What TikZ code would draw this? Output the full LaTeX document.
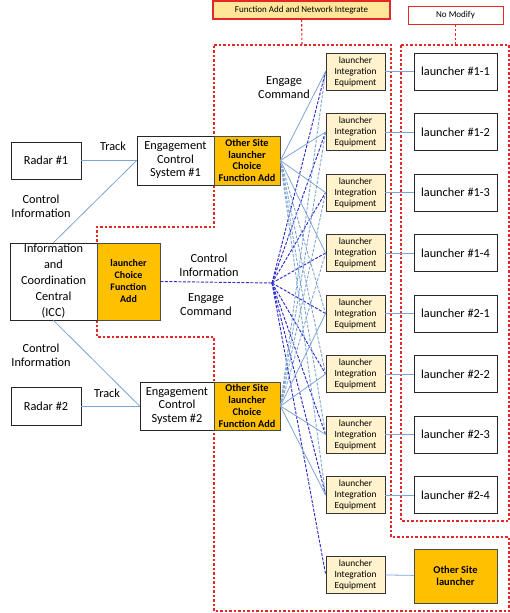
\documentclass[tikz,border=0pt]{standalone}
\usepackage{fontspec}
\setmainfont{Carlito}

\definecolor{linkblue}{RGB}{124,164,212}
\definecolor{cmdblue}{RGB}{45,45,200}
\definecolor{siteorange}{RGB}{255,192,0}
\definecolor{liefill}{RGB}{255,242,204}
\definecolor{tagfill}{RGB}{255,230,153}
\definecolor{zonered}{RGB}{228,40,40}

\begin{document}
\begin{tikzpicture}[x=1pt,y=-1pt]
\tikzstyle{every node}=[inner sep=0pt, align=center, font=\fontsize{12.3}{14}\selectfont]
\tikzstyle{unit}=[draw=black!85, line width=0.8pt, fill=white]
\tikzstyle{addon}=[draw=black!70, line width=0.8pt, fill=siteorange, font=\fontsize{10.3}{11.8}\selectfont\bfseries]
\tikzstyle{lie}=[draw=black!80, line width=0.8pt, fill=liefill, minimum width=59pt, minimum height=37pt, font=\fontsize{9.4}{11}\selectfont]
\tikzstyle{launcher}=[unit, minimum width=83pt, minimum height=37pt]
\tikzstyle{tag}=[draw=zonered, font=\fontsize{9}{10}\selectfont]
\tikzstyle{link}=[draw=linkblue, line width=0.8pt]
\tikzstyle{linkdash}=[link, line width=0.9pt, dash pattern=on 3pt off 1.5pt]
\tikzstyle{cmd}=[draw=cmdblue, line width=0.95pt, dash pattern=on 3pt off 1.5pt]
\tikzstyle{zone}=[draw=zonered, line width=1.1pt, dash pattern=on 2.5pt off 2pt]
\useasboundingbox (0,0) rectangle (510,613);
% zones
\draw[zone] (214,45) -- (391,45) -- (391,537) -- (509,537) -- (509,611) -- (214,611)
  -- (214,337) -- (97,337) -- (97,227) -- (214,227) -- cycle;
\draw[zone] (401,45) rectangle (509,521);
\draw (301.5,10) node (tagA) [tag, fill=tagfill, line width=1.3pt, minimum width=177pt, minimum height=18pt] {Function Add and Network Integrate};
\draw (455.5,15) node (tagB) [tag, fill=white, line width=0.9pt, minimum width=95pt, minimum height=18pt] {No Modify};
\coordinate (zoneA) at (302,45);
\coordinate (zoneB) at (455.5,45);
\draw[zone] (tagA) -- (zoneA);
\draw[zone] (tagB) -- (zoneB);
% left side
\draw (46,160.5) node (radarA) [unit, minimum width=70pt, minimum height=37pt] {Radar \#1};
\draw (46,406) node (radarB) [unit, minimum width=70pt, minimum height=38pt] {Radar \#2};
\draw (175.5,160.5) node (ecsA) [unit, minimum width=77pt, minimum height=49pt, font=\fontsize{12.3}{13.5}\selectfont] {Engagement\\Control\\System \#1};
\draw (177,406) node (ecsB) [unit, minimum width=74pt, minimum height=48pt, font=\fontsize{12.3}{13.5}\selectfont] {Engagement\\Control\\System \#2};
\draw (247,160.5) node (oslA) [addon, minimum width=66pt, minimum height=49pt] {Other Site\\launcher\\Choice\\Function Add};
\draw (247,406) node (oslB) [addon, minimum width=66pt, minimum height=48pt] {Other Site\\launcher\\Choice\\Function Add};
\draw (53.5,281.5) node (icc) [unit, minimum width=87pt, minimum height=77pt, font=\fontsize{12.3}{16}\selectfont] {Information\\and\\Coordination\\Central\\(ICC)};
\draw (128.5,281.5) node (lcfa) [addon, minimum width=63pt, minimum height=77pt, font=\fontsize{10}{12}\selectfont\bfseries] {launcher\\Choice\\Function\\Add};
\coordinate (hub) at (272,283);
% labels
\draw (113,146) node (trackA) {Track};
\draw (107,393) node (trackB) {Track};
\draw (41,206) node (ctrlA) {Control\\Information};
\draw (41,355) node (ctrlC) {Control\\Information};
\draw (209,265) node (ctrlB) {Control\\Information};
\draw (206,305) node (engB) {Engage\\Command};
\draw (284,88) node (engA) {Engage\\Command};
% integration equipment
\draw (355.5,71.5) node (lieA) [lie] {launcher\\Integration\\Equipment};
\draw (355.5,132) node (lieB) [lie] {launcher\\Integration\\Equipment};
\draw (355.5,192.5) node (lieC) [lie] {launcher\\Integration\\Equipment};
\draw (355.5,253) node (lieD) [lie] {launcher\\Integration\\Equipment};
\draw (355.5,313.5) node (lieE) [lie] {launcher\\Integration\\Equipment};
\draw (355.5,374) node (lieF) [lie] {launcher\\Integration\\Equipment};
\draw (355.5,434.5) node (lieG) [lie] {launcher\\Integration\\Equipment};
\draw (355.5,495) node (lieH) [lie] {launcher\\Integration\\Equipment};
\draw (355.5,574.5) node (lieI) [lie] {launcher\\Integration\\Equipment};
% launchers
\draw (455.5,71.5) node (lchA) [launcher] {launcher \#1-1};
\draw (455.5,132) node (lchB) [launcher] {launcher \#1-2};
\draw (455.5,192.5) node (lchC) [launcher] {launcher \#1-3};
\draw (455.5,253) node (lchD) [launcher] {launcher \#1-4};
\draw (455.5,313.5) node (lchE) [launcher] {launcher \#2-1};
\draw (455.5,374) node (lchF) [launcher] {launcher \#2-2};
\draw (455.5,434.5) node (lchG) [launcher] {launcher \#2-3};
\draw (455.5,495) node (lchH) [launcher] {launcher \#2-4};
\draw (455.5,576) node (lchI) [addon, minimum width=83pt, minimum height=54pt, font=\fontsize{10.5}{12.5}\selectfont\bfseries] {Other Site\\launcher};
% links
\draw[link] (radarA) -- (ecsA.west);
\draw[link] (icc.north) -- (ecsA.west);
\draw[link] (radarB) -- (ecsB.west);
\draw[link] (icc.south) -- (ecsB.west);
\draw[cmd] (lcfa.east) -- (hub);
\draw[cmd] (hub) -- (lieA.west);
\draw[cmd] (hub) -- (lieB.west);
\draw[cmd] (hub) -- (lieC.west);
\draw[cmd] (hub) -- (lieD.west);
\draw[cmd] (hub) -- (lieE.west);
\draw[cmd] (hub) -- (lieF.west);
\draw[cmd] (hub) -- (lieG.west);
\draw[cmd] (hub) -- (lieH.west);
\draw[cmd] (hub) -- (lieI.west);
\draw[link] (oslA.east) -- (lieA.west);
\draw[link] (oslA.east) -- (lieB.west);
\draw[link] (oslA.east) -- (lieC.west);
\draw[link] (oslA.east) -- (lieD.west);
\draw[linkdash] (oslA.east) -- (lieE.west);
\draw[linkdash] (oslA.east) -- (lieF.west);
\draw[linkdash] (oslA.east) -- (lieG.west);
\draw[linkdash] (oslA.east) -- (lieH.west);
\draw[linkdash] (oslB.east) -- (lieA.west);
\draw[linkdash] (oslB.east) -- (lieB.west);
\draw[linkdash] (oslB.east) -- (lieC.west);
\draw[linkdash] (oslB.east) -- (lieD.west);
\draw[link] (oslB.east) -- (lieE.west);
\draw[link] (oslB.east) -- (lieF.west);
\draw[link] (oslB.east) -- (lieG.west);
\draw[link] (oslB.east) -- (lieH.west);
\draw[link] (lieA) -- (lchA);
\draw[link] (lieB) -- (lchB);
\draw[link] (lieC) -- (lchC);
\draw[link] (lieD) -- (lchD);
\draw[link] (lieE) -- (lchE);
\draw[link] (lieF) -- (lchF);
\draw[link] (lieG) -- (lchG);
\draw[link] (lieH) -- (lchH);
\draw[link] (lieI) -- (lchI);
\end{tikzpicture}
\end{document}
